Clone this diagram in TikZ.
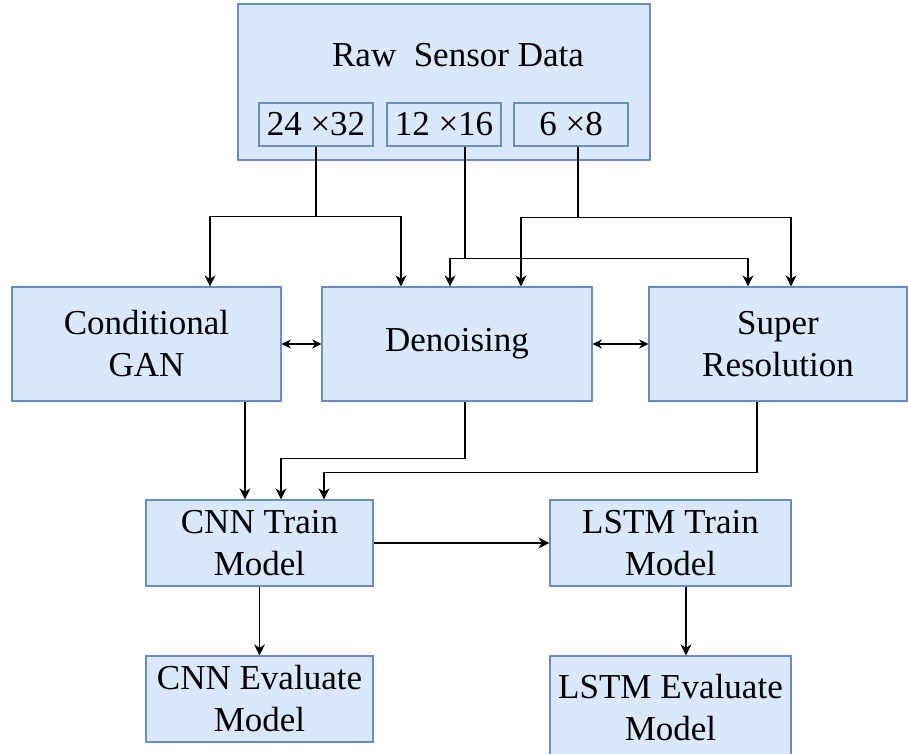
\documentclass[tikz,border=0pt]{standalone}
\usepackage{fontspec}
\setmainfont{Liberation Serif}
\usetikzlibrary{arrows.meta}
\definecolor{boxfill}{HTML}{DAE8FC}
\definecolor{boxline}{HTML}{6C8EBF}
\begin{document}
\begin{tikzpicture}[x=1pt,y=-1pt,
  box/.style={draw=boxline,fill=boxfill,line width=1.3pt,rectangle,inner sep=0pt,
              align=center,font=\fontsize{35}{42}\selectfont},
  arr/.style={line width=1.3pt,-{Stealth[length=11pt,width=11pt,inset=3.5pt]}},
  biarr/.style={line width=1.3pt,{Stealth[length=9pt,width=9pt,inset=2.5pt]}-{Stealth[length=9pt,width=9pt,inset=2.5pt]}}]
\useasboundingbox (0,0) rectangle (908,754);
\clip (0,0) rectangle (908,754);

% input block with its three resolutions
\node[box,minimum width=412pt,minimum height=156pt] (raw) at (444,82) {};
\node[font=\fontsize{35}{42}\selectfont,inner sep=0pt] (rawtitle) at (458,55) {Raw\ \ Sensor Data};
\node[box,minimum width=114pt,minimum height=43pt] (s24) at (316,124.5) {24 ×32};
\node[box,minimum width=114pt,minimum height=43pt] (s12) at (444,124.5) {12 ×16};
\node[box,minimum width=114pt,minimum height=43pt] (s6)  at (571,124.5) {6 ×8};

% augmentation methods
\node[box,minimum width=269pt,minimum height=114pt] (gan) at (146.5,344) {Conditional\\GAN};
\node[box,minimum width=270pt,minimum height=114pt] (den) at (457,344) {Denoising};
\node[box,minimum width=258pt,minimum height=114pt] (sr)  at (778,344) {Super\\Resolution};

% models
\node[box,minimum width=227pt,minimum height=86pt] (cnn)  at (259.5,543) {CNN Train\\Model};
\node[box,minimum width=241pt,minimum height=86pt] (lstm) at (670.5,543) {LSTM Train\\Model};
\node[box,minimum width=227pt,minimum height=86pt] (cnne) at (259.5,699) {CNN Evaluate\\Model};
\node[box,minimum width=241pt,minimum height=104pt] (lstme) at (670.5,708) {LSTM Evaluate\\Model};

% resolutions to methods
\draw[arr] (s24.south) -- ++(0,70) -| ([xshift=63.5pt]gan.north);
\draw[arr] (s24.south) -- ++(0,70) -| ([xshift=-56pt]den.north);
\draw[arr] ([xshift=21pt]s12.south) -- ++(0,112) -| ([xshift=-7pt]den.north);
\draw[arr] ([xshift=21pt]s12.south) -- ++(0,112) -| ([xshift=-30pt]sr.north);
\draw[arr] ([xshift=7pt]s6.south) -- ++(0,71) -| ([xshift=64pt]den.north);
\draw[arr] ([xshift=7pt]s6.south) -- ++(0,71) -| ([xshift=13pt]sr.north);

% links between methods
\draw[biarr] (gan.east) -- (den.west);
\draw[biarr] (den.east) -- (sr.west);

% methods to CNN training
\draw[arr] ([xshift=98.5pt]gan.south) -- ([xshift=-14.5pt]cnn.north);
\draw[arr] ([xshift=8pt]den.south) -- ++(0,57) -| ([xshift=21.5pt]cnn.north);
\draw[arr] ([xshift=-21pt]sr.south) -- ++(0,71) -| ([xshift=64.5pt]cnn.north);

% training to evaluation
\draw[arr] (cnn.east) -- (lstm.west);
\draw[arr] (cnn.south) -- (cnne.north);
\draw[arr] ([xshift=15.5pt]lstm.south) -- ([xshift=15.5pt]lstme.north);
\end{tikzpicture}
\end{document}
